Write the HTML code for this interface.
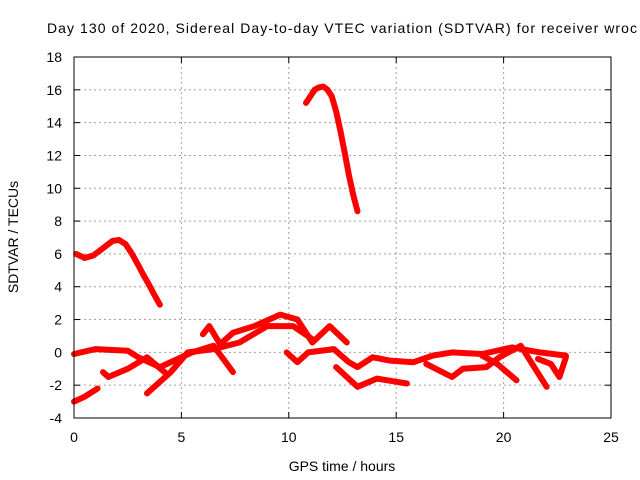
<!DOCTYPE html>
<html><head><meta charset="utf-8"><style>
html,body{margin:0;padding:0;background:#fff;overflow:hidden;}
svg{display:block;font-family:"Liberation Sans",sans-serif;}
</style></head><body>
<svg id="chart" width="640" height="480" viewBox="0 0 640 480">
<text x="47" y="33" font-size="14" fill="#000" textLength="590" lengthAdjust="spacing">Day 130 of 2020, Sidereal Day-to-day VTEC variation (SDTVAR) for receiver wroc</text>
<g id="grid"></g>
<g id="ticks"></g>
<g id="series"></g>
<rect x="74" y="57" width="537" height="361" fill="none" stroke="#000" stroke-width="1"/>
<text x="342" y="471" font-size="14" text-anchor="middle">GPS time / hours</text>
<text transform="translate(18,237) rotate(-90)" font-size="14" text-anchor="middle">SDTVAR / TECUs</text>
</svg>
<script>
const xTicks=[0,5,10,15,20,25];
const yTicks=[-4,-2,0,2,4,6,8,10,12,14,16,18];
const t1h=[0.1,0.5,0.9,1.2,1.5,1.8,2.1,2.4,2.7,3.0,3.2,3.5,3.7,4.0];
const t1v=[6.0,5.75,5.9,6.2,6.5,6.8,6.85,6.6,6.0,5.3,4.8,4.1,3.6,2.9];
const t2h=[10.8,11.0,11.2,11.4,11.6,11.8,12.0,12.2,12.4,12.6,12.8,13.0,13.2];
const t2v=[15.2,15.6,16.0,16.15,16.2,16.0,15.6,14.7,13.5,12.2,10.8,9.6,8.6];
const t3h=[0,0.5,1.1];
const t3v=[-3.0,-2.7,-2.2];
const t4h=[0,1,2.5,3,4,5.5,6.5,7.4];
const t4v=[-0.1,0.2,0.1,-0.3,-0.9,0,0.4,-1.2];
const t5h=[1.35,1.6,2.5,3.4,4.3];
const t5v=[-1.2,-1.5,-1.0,-0.3,-1.3];
const t6h=[3.4,4.5,5.3,6.5,7.7,9,10.2,11.1];
const t6v=[-2.5,-1.2,0,0.2,0.6,1.6,1.6,0.8];
const t7h=[6,6.3,6.8,7.4,8.4,9.6,10.4,11.1,11.9,12.7];
const t7v=[1.1,1.6,0.5,1.2,1.6,2.3,2.0,0.6,1.6,0.6];
const t8h=[9.9,10.4,10.9,12.1,12.8,13.2,13.9,14.7,15.8,16.7,17.6,19.0,20.4,21.7,22.9];
const t8v=[0,-0.6,0,0.2,-0.6,-0.9,-0.3,-0.5,-0.6,-0.2,0,-0.1,0.3,0,-0.2];
const t9h=[12.2,13.2,14.1,15.5];
const t9v=[-0.9,-2.1,-1.6,-1.9];
const t10h=[16.4,17.6,18.1,19.2,19.8,20.8,22.0];
const t10v=[-0.7,-1.5,-1.0,-0.9,-0.3,0.4,-2.1];
const t11h=[19.0,19.7,20.6];
const t11v=[-0.2,-0.7,-1.7];
const t12h=[21.6,22.2,22.6,22.9];
const t12v=[-0.4,-0.7,-1.5,-0.3];
const tracksH=[t1h,t2h,t3h,t4h,t5h,t6h,t7h,t8h,t9h,t10h,t11h,t12h];
const tracksV=[t1v,t2v,t3v,t4v,t5v,t6v,t7v,t8v,t9v,t10v,t11v,t12v];

const NS='http://www.w3.org/2000/svg';
const X0=74,X1=611,Y0=418,Y1=57;
function xs(h){return X0+(h-0)/(25-0)*(X1-X0);}
function ys(v){return Y0-(v+4)/(18+4)*(Y0-Y1);}
function mk(tag,attrs,parent){const e=document.createElementNS(NS,tag);for(const k in attrs)e.setAttribute(k,attrs[k]);parent.appendChild(e);return e;}
const grid=document.getElementById('grid'),ticks=document.getElementById('ticks'),series=document.getElementById('series');
xTicks.forEach(t=>{
  const x=xs(t);
  if(t>0&&t<25){const g=mk('line',{x1:x,x2:x,y1:Y1,y2:Y0,stroke:'#a0a0a0','stroke-dasharray':'2,3'},grid);
  
  }
  mk('line',{x1:x,x2:x,y1:Y0,y2:Y0-6,stroke:'#000'},ticks);
  mk('line',{x1:x,x2:x,y1:Y1,y2:Y1+6,stroke:'#000'},ticks);
  const l=mk('text',{x:x,y:Y0+24,'font-size':14,'text-anchor':'middle'},ticks);l.textContent=t;
  
  
});
yTicks.forEach(t=>{
  const y=ys(t);
  if(t>-4&&t<18){const g=mk('line',{x1:X0,x2:X1,y1:y,y2:y,stroke:'#a0a0a0','stroke-dasharray':'2,3'},grid);
  
  }
  mk('line',{x1:X0,x2:X0+6,y1:y,y2:y,stroke:'#000'},ticks);
  mk('line',{x1:X1,x2:X1-6,y1:y,y2:y,stroke:'#000'},ticks);
  const l=mk('text',{x:X0-12,y:y+5,'font-size':14,'text-anchor':'end'},ticks);l.textContent=t;
  
  
});
tracksH.forEach((hs,i)=>{
  const vs=tracksV[i];
  const pts=hs.map((h,j)=>xs(h).toFixed(1)+','+ys(vs[j]).toFixed(1)).join(' ');
  const p=mk('polyline',{points:pts,fill:'none',stroke:'#ff0000','stroke-width':6,'stroke-linejoin':'round','stroke-linecap':'round'},series);
  
  
});
</script>
</body></html>
